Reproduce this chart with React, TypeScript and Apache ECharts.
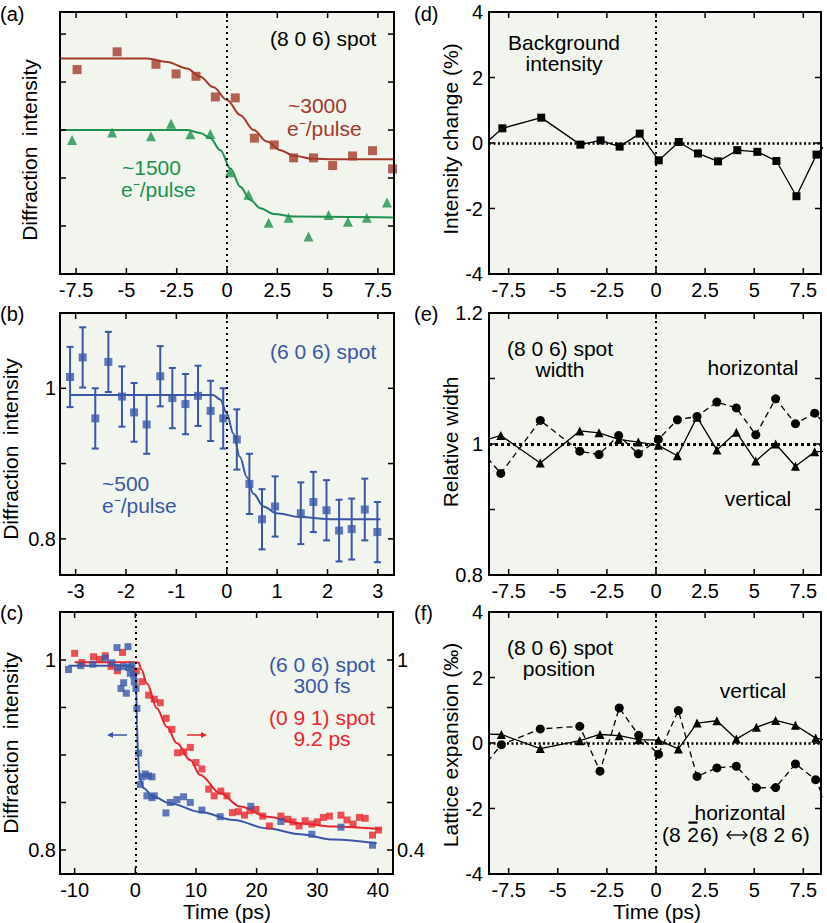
import React, { useEffect, useRef } from "react";
import * as echarts from "echarts";

const FONT = 'Arial, "Liberation Sans", Helvetica, sans-serif';
const BROWN = "#a4392b";
const GREEN = "#1f914e";
const BLUE = "#3a57a7";
const RED = "#e8262d";
const BG = "#f1f5ee";

// ---------- (a) (8 0 6) spot, two fluences ----------
const aRedX = [-7.45, -5.46, -3.53, -2.53, -1.54, -0.58, 0.41, 1.36, 2.35, 3.31, 4.3, 5.25, 6.24, 7.23, 8.23];
const aRedY = [4.26, 4.63, 4.37, 4.17, 4.12, 3.69, 3.67, 2.83, 2.69, 2.42, 2.42, 2.26, 2.46, 2.57, 2.19];
const aGreenX = [-7.7, -5.71, -3.78, -2.78, -1.82, -0.83, 0.13, 1.07, 2.07, 3.06, 4.05, 5.05, 6.01, 6.95, 7.95];
const aGreenY = [2.79, 2.95, 2.87, 3.13, 2.91, 2.92, 2.12, 1.65, 1.07, 1.17, 0.78, 1.23, 1.09, 1.17, 1.49];
const aRedFitX = [-8.3, -3.97, -2.98, -1.99, -1.33, -0.67, 0, 0.66, 1.32, 1.99, 2.65, 3.31, 4.3, 5.3, 8.33];
const aRedFitY = [4.49, 4.49, 4.42, 4.285, 4.11, 3.89, 3.625, 3.31, 3.0, 2.76, 2.58, 2.465, 2.4, 2.39, 2.39];
const aGreenFitX = [-8.3, -1.99, -1.33, -0.83, -0.33, 0.17, 0.66, 1.16, 1.66, 2.32, 3.31, 8.33];
const aGreenFitY = [3.0, 3.0, 2.94, 2.83, 2.58, 2.2, 1.82, 1.54, 1.37, 1.25, 1.2, 1.18];

// ---------- (b) (6 0 6) spot with error bars ----------
const bX = [-3.11, -2.86, -2.61, -2.35, -2.08, -1.84, -1.59, -1.32, -1.08, -0.82, -0.57, -0.32, -0.07, 0.2, 0.45, 0.7, 0.96, 1.47, 1.72, 1.98, 2.23, 2.48, 2.74, 2.99];
const bY = [1.015, 1.041, 0.96, 1.035, 0.989, 0.968, 0.952, 1.016, 0.987, 0.979, 0.99, 0.97, 0.96, 0.932, 0.873, 0.826, 0.843, 0.834, 0.849, 0.838, 0.811, 0.813, 0.839, 0.809];
const bErr = [0.04, 0.04, 0.04, 0.04, 0.04, 0.039, 0.039, 0.04, 0.04, 0.04, 0.04, 0.04, 0.04, 0.04, 0.04, 0.04, 0.04, 0.041, 0.04, 0.04, 0.041, 0.0405, 0.041, 0.04];
const bFitX = [-3.11, -0.27, -0.13, 0, 0.13, 0.26, 0.4, 0.53, 0.73, 0.99, 1.45, 2.12, 3.05];
const bFitY = [0.991, 0.991, 0.985, 0.967, 0.94, 0.909, 0.882, 0.86, 0.843, 0.834, 0.829, 0.826, 0.826];

// ---------- (c) long time scan ----------
const cBlueX = [-11, -9, -7, -4.94, -3.84, -3.02, -2.9, -2.36, -1.92, -1.92, -1.48, -1.2, -1.1, -0.82, -0.55, -0.27, -0.16, 0.11, 0.27, 0.55, 0.82, 1.1, 1.65, 1.92, 2.2, 2.75, 2.75, 3.13, 5.05, 5.77, 6.87, 7.96, 9.06, 10.98, 14, 19.04, 24, 29.1, 33.9, 39.1];
const cBlueY = [0.99, 0.994, 0.9955, 1.002, 0.997, 1.013, 0.992, 0.97, 0.993, 0.976, 0.965, 1.014, 0.992, 0.986, 0.994, 0.984, 0.977, 0.97, 0.949, 0.902, 0.869, 0.877, 0.88, 0.857, 0.878, 0.877, 0.855, 0.857, 0.839, 0.85, 0.853, 0.856, 0.85, 0.842, 0.835, 0.846, 0.83, 0.8165, 0.824, 0.805];
const cBlueFitX = [-11, -0.55, 0, 0.17, 0.27, 0.44, 0.6, 0.82, 1.37, 3, 5.77, 10.7, 16.2, 21.7, 27.2, 32.7, 39.8];
const cBlueFitY = [0.994, 0.994, 0.986, 0.968, 0.933, 0.902, 0.885, 0.874, 0.865, 0.856, 0.849, 0.84, 0.8316, 0.8228, 0.8165, 0.811, 0.807];
const cRedX = [-10, -8.79, -6.87, -5.88, -4.94, -4, -2.95, -2.1, 0.16, 1.1, 2.2, 3.13, 4.12, 5.1, 6.04, 6.97, 7.96, 9.06, 10, 11, 12.1, 13, 14.1, 15.1, 16, 17, 18, 18.9, 19.9, 21, 22.1, 24, 25.1, 26, 27, 28, 29.1, 30, 31, 32, 33.9, 34.9, 35.9, 36.95, 37.9, 39.1, 40.1];
const cRedY = [1.021, 0.992, 1.0105, 1.002, 1.0136, 0.98, 0.966, 1.024, 0.965, 0.9315, 0.889, 0.876, 0.865, 0.816, 0.781, 0.707, 0.71, 0.724, 0.676, 0.656, 0.592, 0.571, 0.586, 0.571, 0.518, 0.521, 0.51, 0.524, 0.528, 0.507, 0.476, 0.507, 0.497, 0.489, 0.476, 0.4925, 0.482, 0.489, 0.503, 0.507, 0.51, 0.495, 0.482, 0.503, 0.5, 0.447, 0.463];
const cRedFitX = [-10, -1, 0, 0.55, 1.0, 1.93, 3.57, 5.2, 6.87, 9.06, 10.7, 14, 17.3, 21.7, 27.2, 32.7, 40.4];
const cRedFitY = [0.993, 0.993, 0.993, 0.992, 0.97, 0.926, 0.847, 0.789, 0.737, 0.684, 0.637, 0.579, 0.537, 0.505, 0.484, 0.474, 0.466];

// ---------- (d) background intensity ----------
const dX = [-8.82, -7.82, -5.84, -3.85, -2.82, -1.85, -0.83, 0.14, 1.16, 2.14, 3.16, 4.14, 5.16, 6.13, 7.15, 8.17, 9.17];
const dY = [-0.09, 0.448, 0.774, -0.05, 0.08, -0.11, 0.286, -0.53, 0.03, -0.32, -0.56, -0.22, -0.27, -0.55, -1.625, -0.355, 0.3];

// ---------- (e) spot width ----------
const eX = [-8.9, -7.9, -5.89, -3.88, -2.9, -1.9, -0.9, 0.12, 1.09, 2.09, 3.1, 4.09, 5.08, 6.09, 7.1, 8.08, 9.08];
const eHoriz = [0.99, 0.955, 1.036, 0.989, 0.984, 1.013, 0.985, 1.007, 1.037, 1.042, 1.064, 1.055, 1.014, 1.069, 1.031, 1.047, 1.015];
const eVert = [1.004, 1.013, 0.971, 1.02, 1.017, 1.007, 1.003, 0.998, 0.982, 1.041, 0.991, 1.018, 0.974, 1.0, 0.966, 0.988, 0.99];

// ---------- (f) spot position ----------
const fX = [-8.9, -7.87, -5.89, -3.88, -2.85, -1.87, -0.88, 0.13, 1.14, 2.09, 3.1, 4.09, 5.11, 6.09, 7.1, 8.13, 9.13];
const fHoriz = [-0.8, -0.05, 0.43, 0.51, -0.86, 1.07, 0.235, -0.34, 0.99, -1.02, -0.76, -0.71, -1.37, -1.36, -0.64, -1.12, -2.5];
const fVert = [0.28, 0.26, -0.17, 0.07, 0.26, 0.225, 0.1, 0.085, -0.18, 0.61, 0.68, 0.12, 0.48, 0.69, 0.54, 0.15, 0.03];

// ---------- axes: ticks and labels ----------
const xTicksPs = [-7.5, -5, -2.5, 0, 2.5, 5, 7.5];
const xTicksB = [-3, -2, -1, 0, 1, 2, 3];
const xTicksC = [-10, 0, 10, 20, 30, 40];
const yTicksA = [1, 2, 3, 4, 5];
const yTicksB = [0.8, 0.9, 1.0];
const yLabelsB = [0.8, 1.0];
const yTicksCL = [0.8, 0.85, 0.9, 0.95, 1.0];
const yLabelsCL = [0.8, 1.0];
const yTicksCR = [0.4, 0.55, 0.7, 0.85, 1.0];
const yLabelsCR = [0.4, 1.0];
const yTicksDF = [-4, -2, 0, 2, 4];
const yTicksE = [0.8, 0.9, 1.0, 1.1, 1.2];
const yLabelsE = [0.8, 1.0, 1.2];

const GRIDS = [
  { left: 60, top: 12, width: 334, height: 262 },
  { left: 60, top: 313, width: 334, height: 262 },
  { left: 60, top: 612, width: 333, height: 262 },
  { left: 489, top: 12, width: 332, height: 262 },
  { left: 489, top: 313, width: 332, height: 262 },
  { left: 489, top: 612, width: 332, height: 262 },
];

const XR: [number, number][] = [
  [-8.3, 8.3],
  [-3.31, 3.32],
  [-12.41, 42.48],
  [-8.5, 8.4],
  [-8.5, 8.4],
  [-8.5, 8.4],
];
const YR: [number, number][] = [
  [0, 5.46],
  [0.752, 1.1],
  [0.7747, 1.0505],
  [-4, 4],
  [0.8, 1.2],
  [-4, 4],
];
const YR_C_RIGHT: [number, number] = [0.3242, 1.1516];

const TICKS = [
  { x: xTicksPs, yl: yTicksA, yr: yTicksA, rr: YR[0] },
  { x: xTicksB, yl: yTicksB, yr: yTicksB, rr: YR[1] },
  { x: xTicksC, yl: yTicksCL, yr: yTicksCR, rr: YR_C_RIGHT },
  { x: xTicksPs, yl: yTicksDF, yr: yTicksDF, rr: YR[3] },
  { x: xTicksPs, yl: yTicksE, yr: yTicksE, rr: YR[4] },
  { x: xTicksPs, yl: yTicksDF, yr: yTicksDF, rr: YR[5] },
];

const zip = (xs: number[], ys: number[]) => xs.map((x, i) => [x, ys[i]]);
const fmt = (v: number) => `${Math.round(v * 100) / 100}`;
const hidden = { show: false, onZero: false };

function xAxes(g: number, labels: number[]) {
  const base = { type: "value", gridIndex: g, min: XR[g][0], max: XR[g][1], splitLine: { show: false }, axisLine: hidden, axisTick: { show: false } };
  return [
    {
      ...base,
      position: "bottom",
      axisLabel: { show: true, customValues: labels, margin: 6, color: "#000", fontSize: 20, fontFamily: FONT, formatter: fmt },
    },
    { ...base, position: "top", axisLabel: { show: false } },
  ];
}

function yAxes(g: number, labels: number[] | null, margin: number, right?: { range: [number, number]; labels: number[] }) {
  const base = { type: "value", gridIndex: g, splitLine: { show: false }, axisLine: hidden, axisTick: { show: false } };
  const left = {
    ...base,
    min: YR[g][0],
    max: YR[g][1],
    position: "left",
    axisLabel: labels
      ? { show: true, customValues: labels, margin, color: "#000", fontSize: 20, fontFamily: FONT, formatter: fmt }
      : { show: false },
  };
  const r = right
    ? {
        ...base,
        min: right.range[0],
        max: right.range[1],
        position: "right",
        axisLabel: { show: true, customValues: right.labels, margin: 4, color: "#000", fontSize: 20, fontFamily: FONT, formatter: fmt },
      }
    : { ...base, min: YR[g][0], max: YR[g][1], position: "right", axisLabel: { show: false } };
  return [left, r];
}

const vMark = (extra: any[] = []) => ({
  silent: true,
  symbol: ["none", "none"],
  label: { show: false },
  lineStyle: { color: "#000", width: 2, type: [2, 4] },
  data: [{ xAxis: 0 }, ...extra],
});

const fitLine = (g: number, yi: number, data: number[][], color: string, extra: any = {}) => ({
  type: "line",
  xAxisIndex: 2 * g,
  yAxisIndex: yi,
  data,
  showSymbol: false,
  symbol: "none",
  smooth: 0.35,
  smoothMonotone: "x",
  lineStyle: { color, width: 2 },
  z: 2,
  ...extra,
});

const scat = (g: number, yi: number, data: number[][], color: string, symbol: string, size: number) => ({
  type: "scatter",
  xAxisIndex: 2 * g,
  yAxisIndex: yi,
  data,
  symbol,
  symbolSize: size,
  itemStyle: { color },
  z: 3,
});

const markerLine = (g: number, data: number[][], symbol: string, dashed: boolean, extra: any = {}) => ({
  type: "line",
  xAxisIndex: 2 * g,
  yAxisIndex: 2 * g,
  data,
  symbol,
  symbolSize: symbol === "rect" ? 8 : 9,
  showSymbol: true,
  itemStyle: { color: "#000" },
  lineStyle: { color: "#000", width: 1.3, type: dashed ? [6, 4] : "solid" },
  z: 3,
  ...extra,
});

// filled bars (frame sides and tick marks)
const BAR = (x: number, y: number, w: number, h: number) => ({
  type: "rect",
  silent: true,
  z: 100,
  shape: { x, y, width: w, height: h },
  style: { fill: "#000" },
});

function frameAndTicks(): any[] {
  const out: any[] = [];
  const L = 6;
  const tw = 1.5;
  TICKS.forEach((t, g) => {
    const gr = GRIDS[g];
    const l = gr.left, r = gr.left + gr.width, tp = gr.top, b = gr.top + gr.height;
    out.push(BAR(l - 1, tp - 1, gr.width + 2, 2), BAR(l - 1, b - 1, gr.width + 2, 2), BAR(l - 1, tp - 1, 2, gr.height + 2), BAR(r - 1, tp - 1, 2, gr.height + 2));
    const [x0, x1] = XR[g];
    t.x.forEach((v) => {
      const px = l + ((v - x0) / (x1 - x0)) * gr.width;
      out.push(BAR(px - tw / 2, b - L, tw, L), BAR(px - tw / 2, tp, tw, L));
    });
    const [y0, y1] = YR[g];
    t.yl.forEach((v) => {
      const py = b - ((v - y0) / (y1 - y0)) * gr.height;
      out.push(BAR(l, py - tw / 2, L, tw));
    });
    const [r0, r1] = t.rr;
    t.yr.forEach((v) => {
      const py = b - ((v - r0) / (r1 - r0)) * gr.height;
      out.push(BAR(r - L, py - tw / 2, L, tw));
    });
  });
  return out;
}

function buildGraphic(): any[] {
  const T = (text: string, x: number, y: number, color = "#000", align = "left", size = 21) => ({
    type: "text",
    x,
    y,
    silent: true,
    z: 100,
    style: {
      text,
      fill: color,
      fontSize: size,
      fontFamily: FONT,
      align,
      verticalAlign: "middle",
      textAlign: align,
      textVerticalAlign: "middle",
    },
  });
  const R = (text: string, x: number, y: number) => ({ ...T(text, x, y, "#000", "center", 21), rotation: Math.PI / 2 });
  const idxY = 834;
  return [
    T("(a)", 0, 14, "#000", "left", 20),
    T("(b)", 0, 314, "#000", "left", 20),
    T("(c)", 0, 613, "#000", "left", 20),
    T("(d)", 414, 14, "#000", "left", 20),
    T("(e)", 414, 314, "#000", "left", 20),
    T("(f)", 414, 613, "#000", "left", 20),
    R("Diffraction\u2002intensity", 29, 150),
    R("Diffraction\u2002intensity", 10, 449),
    R("Diffraction\u2002intensity", 10, 743),
    R("Intensity change (%)", 450, 139),
    R("Relative width", 450, 442),
    R("Lattice expansion (\u2030)", 450, 745),
    T("Time (ps)", 227, 911, "#000", "center", 21),
    T("Time (ps)", 657, 911, "#000", "center", 21),
    // (a)
    T("(8 0 6) spot", 270, 38),
    T("~3000", 288, 105, BROWN),
    T("e\u207B/pulse", 287, 128, BROWN),
    T("~1500", 122, 167, GREEN),
    T("e\u207B/pulse", 121, 189, GREEN),
    // (b)
    T("(6 0 6) spot", 270, 351, BLUE),
    T("~500", 102, 483, BLUE),
    T("e\u207B/pulse", 102, 505, BLUE),
    // (c)
    T("(6 0 6) spot", 322, 664, BLUE, "center"),
    T("300 fs", 322, 685, BLUE, "center"),
    T("(0 9 1) spot", 322, 717, RED, "center"),
    T("9.2 ps", 322, 738, RED, "center"),
    { type: "line", silent: true, z: 100, shape: { x1: 127, y1: 735, x2: 111, y2: 735 }, style: { stroke: BLUE, lineWidth: 1.5 } },
    { type: "polygon", silent: true, z: 100, shape: { points: [[107, 735], [113, 732], [113, 738]] }, style: { fill: BLUE } },
    { type: "line", silent: true, z: 100, shape: { x1: 187, y1: 735, x2: 203, y2: 735 }, style: { stroke: RED, lineWidth: 1.5 } },
    { type: "polygon", silent: true, z: 100, shape: { points: [[207, 735], [201, 732], [201, 738]] }, style: { fill: RED } },
    // (d)
    T("Background", 564, 42, "#000", "center"),
    T("intensity", 564, 63, "#000", "center"),
    // (e)
    T("(8 0 6) spot", 560, 348, "#000", "center"),
    T("width", 560, 369, "#000", "center"),
    T("horizontal", 753, 367, "#000", "center"),
    T("vertical", 758, 498, "#000", "center"),
    // (f)
    T("(8 0 6) spot", 560, 647, "#000", "center"),
    T("position", 559, 668, "#000", "center"),
    T("vertical", 753, 690, "#000", "center"),
    T("horizontal", 740, 812, "#000", "center"),
    T("(8", 662, idxY),
    T("2", 693, idxY, "#000", "center"),
    { type: "rect", silent: true, z: 100, shape: { x: 688.5, y: idxY - 12.5, width: 9, height: 2.2 }, style: { fill: "#000" } },
    T("6)", 700, idxY),
    { type: "line", silent: true, z: 100, shape: { x1: 727, y1: idxY + 1, x2: 747, y2: idxY + 1 }, style: { stroke: "#000", lineWidth: 1.3 } },
    {
      type: "polyline",
      silent: true,
      z: 100,
      shape: { points: [[731, idxY - 3], [727, idxY + 1], [731, idxY + 5]] },
      style: { stroke: "#000", lineWidth: 1.3, fill: "none" },
    },
    {
      type: "polyline",
      silent: true,
      z: 100,
      shape: { points: [[743, idxY - 3], [747, idxY + 1], [743, idxY + 5]] },
      style: { stroke: "#000", lineWidth: 1.3, fill: "none" },
    },
    T("(8 2 6)", 749, idxY),
    ...frameAndTicks(),
  ];
}

function buildOption() {
  const xAxis = [
    ...xAxes(0, xTicksPs),
    ...xAxes(1, xTicksB),
    ...xAxes(2, xTicksC),
    ...xAxes(3, xTicksPs),
    ...xAxes(4, xTicksPs),
    ...xAxes(5, xTicksPs),
  ];
  const yAxis = [
    ...yAxes(0, null, 4),
    ...yAxes(1, yLabelsB, 4),
    ...yAxes(2, yLabelsCL, 4, { range: YR_C_RIGHT, labels: yLabelsCR }),
    ...yAxes(3, yTicksDF, 6),
    ...yAxes(4, yLabelsE, 6),
    ...yAxes(5, yTicksDF, 6),
  ];

  const hDot = { lineStyle: { color: "#000", width: 2.5, type: [2, 2.5] } };

  const series: any[] = [
    // (a)
    fitLine(0, 0, zip(aRedFitX, aRedFitY), BROWN, { markLine: vMark() }),
    fitLine(0, 0, zip(aGreenFitX, aGreenFitY), GREEN),
    scat(0, 0, zip(aRedX, aRedY), BROWN, "rect", 9),
    scat(0, 0, zip(aGreenX, aGreenY), GREEN, "triangle", 10),
    // (b)
    fitLine(1, 2, zip(bFitX, bFitY), BLUE, { markLine: vMark() }),
    {
      type: "custom",
      xAxisIndex: 2,
      yAxisIndex: 2,
      z: 2,
      data: bX.map((x, i) => [x, bY[i] - bErr[i], bY[i] + bErr[i]]),
      encode: { x: 0, y: [1, 2] },
      renderItem: (params: any, api: any) => {
        const x = api.value(0);
        const a = api.coord([x, api.value(1)]);
        const b = api.coord([x, api.value(2)]);
        const st = { stroke: BLUE, lineWidth: 2 };
        const hw = 3.5;
        return {
          type: "group",
          children: [
            { type: "line", shape: { x1: a[0], y1: a[1], x2: b[0], y2: b[1] }, style: st },
            { type: "line", shape: { x1: a[0] - hw, y1: a[1], x2: a[0] + hw, y2: a[1] }, style: st },
            { type: "line", shape: { x1: b[0] - hw, y1: b[1], x2: b[0] + hw, y2: b[1] }, style: st },
          ],
        };
      },
    },
    scat(1, 2, zip(bX, bY), BLUE, "rect", 8),
    // (c)
    scat(2, 5, zip(cRedX, cRedY), RED, "rect", 7),
    scat(2, 4, zip(cBlueX, cBlueY), BLUE, "rect", 7),
    fitLine(2, 5, zip(cRedFitX, cRedFitY), RED),
    fitLine(2, 4, zip(cBlueFitX, cBlueFitY), BLUE, { markLine: vMark() }),
    // (d)
    markerLine(3, zip(dX, dY), "rect", false, { markLine: vMark([{ yAxis: 0, ...hDot }]) }),
    // (e)
    markerLine(4, zip(eX, eHoriz), "circle", true, {
      markLine: vMark([{ yAxis: 1, lineStyle: { color: "#000", width: 3, type: [3, 3] } }]),
    }),
    markerLine(4, zip(eX, eVert), "triangle", false),
    // (f)
    markerLine(5, zip(fX, fHoriz), "circle", true, { markLine: vMark([{ yAxis: 0, ...hDot }]) }),
    markerLine(5, zip(fX, fVert), "triangle", false),
  ];

  return {
    animation: false,
    backgroundColor: "#fff",
    textStyle: { fontFamily: FONT },
    grid: GRIDS.map((g) => ({
      ...g,
      show: true,
      backgroundColor: BG,
      borderWidth: 0,
      containLabel: false,
    })),
    xAxis,
    yAxis,
    series,
    graphic: buildGraphic(),
  };
}

export default function App() {
  const ref = useRef<HTMLDivElement>(null);
  useEffect(() => {
    if (!ref.current) return;
    const chart = echarts.init(ref.current, undefined, { renderer: "svg", width: 827, height: 923 });
    chart.setOption(buildOption() as any);
    return () => chart.dispose();
  }, []);
  return <div ref={ref} style={{ position: "absolute", left: 0, top: 0, width: 827, height: 923 }} />;
}
